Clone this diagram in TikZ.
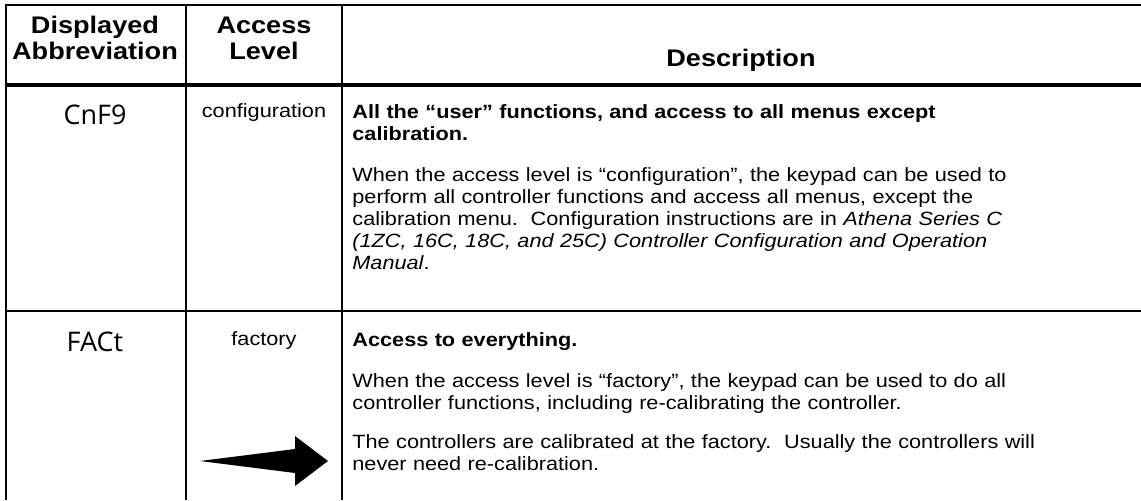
\documentclass[tikz,border=0pt]{standalone}
\usepackage{fontspec}
\setmainfont[FakeStretch=1.13]{Liberation Sans}
\newfontfamily\dispfont{Open Sans}
\usetikzlibrary{positioning}
\frenchspacing
\tikzset{
  rule/.style={line width=1pt},
  headrule/.style={line width=2pt},
  headcell/.style={font=\fontsize{12}{13}\selectfont\bfseries, align=center, inner sep=0pt, anchor=base},
  abbrcell/.style={font=\dispfont\fontsize{13.5}{15}\selectfont, inner sep=0pt, anchor=base},
  levelcell/.style={font=\fontsize{9.6}{11}\selectfont, inner sep=0pt, anchor=base},
  desccell/.style={font=\fontsize{9.6}{11}\selectfont, text width=392pt, align=left, inner sep=0pt, anchor=base west},
}
\begin{document}
\begin{tikzpicture}[x=0.5pt,y=-0.5pt]
  \useasboundingbox (0,0) rectangle (1141,500);
  % rules of the table
  \draw[rule] (4.5,5) -- (1141,5);
  \draw[headrule] (4.5,85) -- (1141,85);
  \draw[rule] (4.5,311) -- (1141,311);
  \draw[rule] (5.5,4.5) -- (5.5,500);
  \draw[rule] (186,4.5) -- (186,500);
  \draw[rule] (342,4.5) -- (342,500);
  % header
  \node[headcell] (habbr) at (95,59) {Displayed\\Abbreviation};
  \node[headcell] (hlevel) at (264,59) {Access\\Level};
  \node[headcell] (hdesc) at (741,66) {Description};
  % configuration row
  \node[abbrcell] (cnfg) at (95,124) {CnF9};
  \node[levelcell] (lcnfg) at (264,117) {configuration};
  \node[desccell] (dcnfg) at (352,118) {{\bfseries All the “user” functions, and access to all menus except\\
    calibration.}\\[9.5pt]
    When the access level is “configuration”, the keypad can be used to\\
    perform all controller functions and access all menus, except the\\
    calibration menu.~ Configuration instructions are in {\itshape Athena Series C\\
    (1ZC, 16C, 18C, and 25C) Controller Configuration and Operation\\
    Manual}.};
  % factory row
  \node[abbrcell] (fact) at (95,351) {FACt};
  \node[levelcell] (lfact) at (264,345) {factory};
  \node[desccell] (dfact) at (352,346) {{\bfseries Access to everything.}\\[9.5pt]
    When the access level is “factory”, the keypad can be used to do all\\
    controller functions, including re-calibrating the controller.\\[8.5pt]
    The controllers are calibrated at the factory.~ Usually the controllers will\\
    never need re-calibration.};
  % pointer
  \coordinate (tail) at (200,461);
  \coordinate (tip) at (328,461);
  \fill (tail) -- (295,449) -- (295,436) -- (tip) -- (295,486) -- (295,473) -- cycle;
\end{tikzpicture}
\end{document}
